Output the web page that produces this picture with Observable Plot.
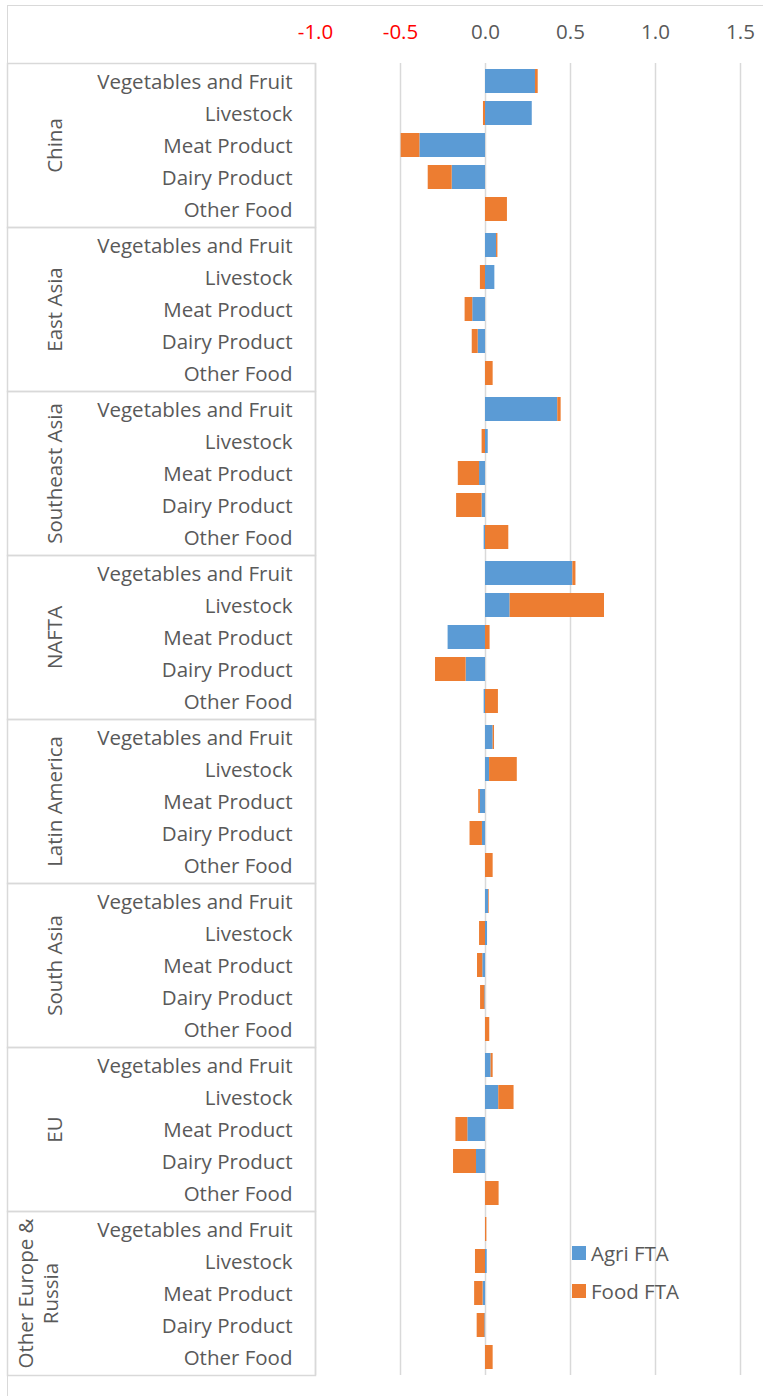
<!DOCTYPE html>
<html>
<head>
<meta charset="utf-8">
<script src="https://cdn.jsdelivr.net/npm/d3@7"></script>
<script src="https://cdn.jsdelivr.net/npm/@observablehq/plot@0.6"></script>
<style>
  body { margin: 0; background: #fff; font-family: "Open Sans", sans-serif; }
  #chart { position: relative; width: 763px; height: 1396px; overflow: hidden; }
  #chart svg { position: absolute; left: 0; top: 0; }
  #border { position: absolute; left: 7px; top: 5px; right: -5px; bottom: -5px;
            border-left: 1.5px solid #d9d9d9; border-top: 1.5px solid #d9d9d9; }
  #legend { position: absolute; left: 572px; top: 1234px; color: #595959; font-size: 20.5px; }
  #legend .item { display: flex; align-items: center; height: 38px; }
  #legend .sw { width: 14px; height: 14px; margin-right: 5px; }
</style>
</head>
<body>
<div id="chart"><div id="border"></div></div>
<script>
const groups = ["China", "East Asia", "Southeast Asia", "NAFTA", "Latin America", "South Asia", "EU", "Other Europe & Russia"];
const groupLabels = ["China", "East Asia", "Southeast Asia", "NAFTA", "Latin America", "South Asia", "EU", "Other Europe &\nRussia"];
const categories = ["Vegetables and Fruit", "Livestock", "Meat Product", "Dairy Product", "Other Food"];
const seriesNames = ["Agri FTA", "Food FTA"];
const seriesColors = ["#5B9BD5", "#ED7D31"];
const xTicks = [-1.0, -0.5, 0.0, 0.5, 1.0, 1.5];

// values per group, in category order
const agriFTA = [
  [0.294, 0.275, -0.386, -0.196, 0.000],
  [0.065, 0.055, -0.075, -0.043, 0.000],
  [0.425, 0.016, -0.035, -0.020, -0.008],
  [0.514, 0.145, -0.220, -0.114, -0.008],
  [0.045, 0.024, -0.030, -0.018, 0.000],
  [0.018, 0.012, -0.016, -0.004, 0.000],
  [0.033, 0.078, -0.104, -0.053, 0.000],
  [0.000, 0.010, -0.014, -0.004, 0.000]
];
const foodFTA = [
  [0.016, -0.012, -0.110, -0.141, 0.129],
  [0.008, -0.030, -0.045, -0.035, 0.045],
  [0.020, -0.020, -0.125, -0.150, 0.137],
  [0.018, 0.555, 0.027, -0.180, 0.076],
  [0.008, 0.163, -0.010, -0.073, 0.045],
  [0.004, -0.035, -0.031, -0.025, 0.025],
  [0.012, 0.090, -0.070, -0.135, 0.080],
  [0.008, -0.059, -0.050, -0.045, 0.045]
];

const rows = [];
groups.forEach((g, gi) => {
  categories.forEach((c, ci) => {
    rows.push({group: g, category: c, series: seriesNames[0], value: agriFTA[gi][ci]});
    rows.push({group: g, category: c, series: seriesNames[1], value: foodFTA[gi][ci]});
  });
});

const labelRows = groups.map((g, i) => ({group: g, label: groupLabels[i]}));
const fmt = d => d.toFixed(1);
const lineColor = "#d9d9d9";
const fs = 20.5;

const chart = Plot.plot({
  width: 763,
  height: 1396,
  marginTop: 63,
  marginBottom: 21,
  marginLeft: 315,
  marginRight: 23,
  style: {fontFamily: "'Open Sans', sans-serif", fontSize: "20px", color: "#595959", background: "transparent"},
  x: {domain: [-1.0, 1.5], axis: null},
  y: {domain: categories, paddingInner: 0.24, paddingOuter: 0.12, axis: null},
  fy: {domain: groups, padding: 0, axis: null},
  color: {domain: seriesNames, range: seriesColors},
  marks: [
    Plot.gridX(xTicks, {stroke: lineColor, strokeOpacity: 1, strokeWidth: 1.5}),
    Plot.frame({stroke: lineColor, strokeWidth: 1.5, insetLeft: -308, insetRight: 425}),
    Plot.barX(rows, Plot.stackX({x: "value", y: "category", fy: "group", fill: "series"})),
    Plot.axisX(xTicks.filter(d => d < 0), {anchor: "top", tickSize: 0, tickPadding: 25, tickFormat: fmt, label: null, fill: "#ff0000", fontSize: fs}),
    Plot.axisX(xTicks.filter(d => d >= 0), {anchor: "top", tickSize: 0, tickPadding: 25, tickFormat: fmt, label: null, fill: "#595959", fontSize: fs}),
    Plot.axisY({tickSize: 0, tickPadding: 23, label: null, fontSize: fs, fill: "#595959", dy: 0.5}),
    Plot.text(labelRows.filter(d => !d.label.includes("\n")), {fy: "group", text: "label", frameAnchor: "left", dx: -260, rotate: -90, textAnchor: "middle", lineAnchor: "middle", fontSize: fs, fill: "#595959"}),
    Plot.text(labelRows.filter(d => d.label.includes("\n")), {fy: "group", text: "label", frameAnchor: "left", dx: -278, rotate: -90, textAnchor: "middle", lineAnchor: "middle", fontSize: fs, fill: "#595959", lineHeight: 1.2})
  ]
});

const container = document.getElementById("chart");
container.appendChild(chart);

const legend = document.createElement("div");
legend.id = "legend";
seriesNames.forEach((s, i) => {
  const item = document.createElement("div");
  item.className = "item";
  const sw = document.createElement("span");
  sw.className = "sw";
  sw.style.background = seriesColors[i];
  const t = document.createElement("span");
  t.textContent = s;
  item.appendChild(sw);
  item.appendChild(t);
  legend.appendChild(item);
});
container.appendChild(legend);
</script>
</body>
</html>
